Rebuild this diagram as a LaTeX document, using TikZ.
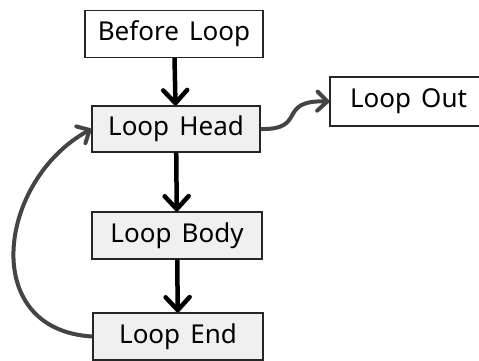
\documentclass[tikz,border=0pt]{standalone}
\usepackage{fontspec}
\setmainfont{Noto Sans}[WordSpace=1.5]
\usepackage{xcolor}
\usepackage{tikz}
\usetikzlibrary{arrows.meta}

\definecolor{boxgray}{HTML}{F0F0F0}
\definecolor{linegray}{HTML}{444444}

\begin{document}
\begin{tikzpicture}[x=1pt,y=-1pt]
\tikzstyle{block} = [draw=black!85, line width=1.2pt, fill=white, inner sep=0pt, minimum height=47pt, font=\fontsize{26}{29}\selectfont]
\tikzstyle{blockgray} = [block, fill=boxgray]
\tikzstyle{flow} = [line width=4.5pt, black, -{Straight Barb[length=13pt,width=24pt,round]}]
\tikzstyle{loopflow} = [line width=4pt, linegray, -{Straight Barb[length=10pt,width=19pt,round]}]
%
\useasboundingbox (0,0) rectangle (479,360);

	\node[block, minimum width=178pt] (before) at (174,34) {Before Loop};
	\node[blockgray, minimum width=168pt, minimum height=46pt] (head) at (176,129) {Loop Head};
	\node[block, minimum width=157pt, minimum height=49pt] (out) at (408.5,101.5) {Loop Out};
	\node[blockgray, minimum width=170pt] (body) at (177,235.5) {Loop Body};
	\node[blockgray, minimum width=170pt] (end) at (178,336.5) {Loop End};

	\draw[flow] (before) -- (head);
	\draw[flow] (head) -- (body);
	\draw[flow] (body) -- (end);
	\draw[loopflow] (head.east) .. controls (308,130) and (276,100) .. (out.west);
	\draw[loopflow] (end.west) .. controls (-22,330) and (-2,180) .. (head.west);
\end{tikzpicture}
\end{document}
